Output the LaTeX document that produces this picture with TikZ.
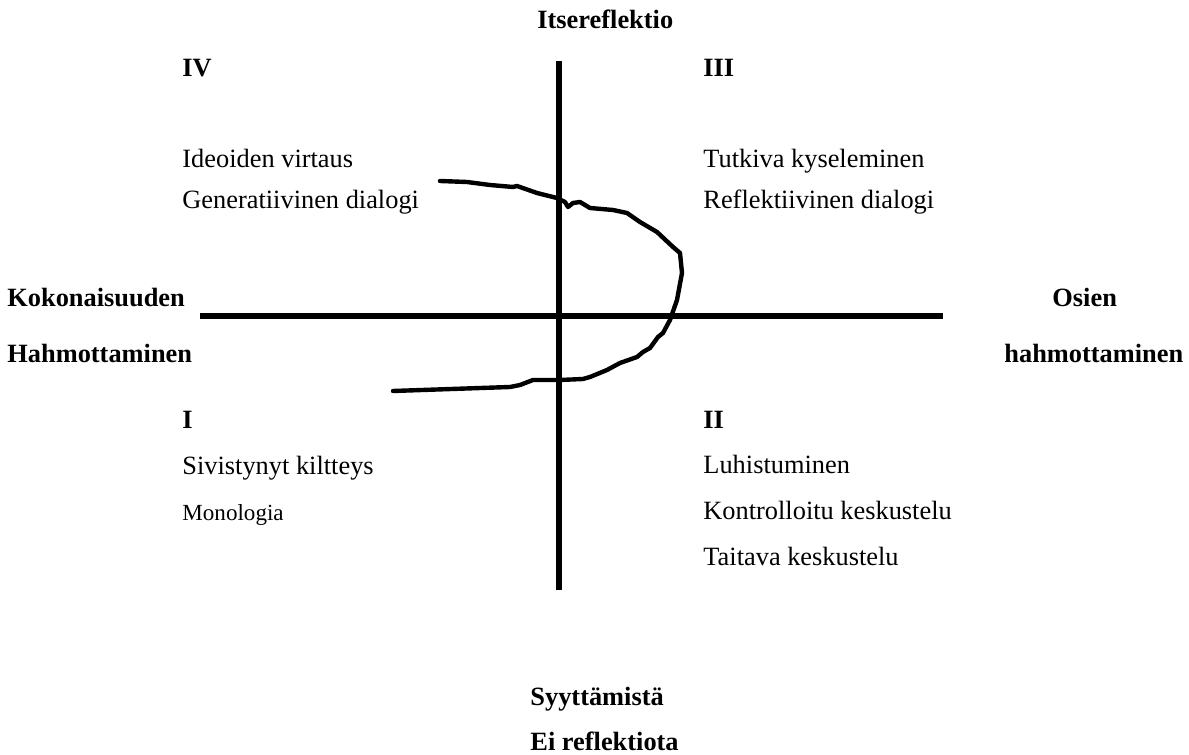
\documentclass[tikz,border=0pt]{standalone}
\usepackage{fontspec}
\setmainfont{Liberation Serif}
\usepackage{tikz}
\usetikzlibrary{positioning, calc}

\begin{document}
\begin{tikzpicture}[
    x=0.455pt, y=-0.455pt,
    every node/.style={font=\fontsize{12}{14}\selectfont, inner sep=0pt},
    axislbl/.style={font=\fontsize{12}{14}\selectfont\bfseries, anchor=base west},
    quadnum/.style={font=\fontsize{12}{14}\selectfont\bfseries, anchor=base west},
    quadtxt/.style={anchor=base west},
    axis/.style={line width=2.7pt},
    pathline/.style={line width=2pt, line join=round, line cap=round},
]
\useasboundingbox (0,0) rectangle (1189,755);

% axes
\coordinate (axL) at (200,316);
\coordinate (axR) at (943,316);
\coordinate (axT) at (559,61);
\coordinate (axB) at (559,590);
\draw[axis] (axL) -- (axR);
\draw[axis] (axT) -- (axB);

% axis labels
\node[axislbl] (top)    at (537,29)  {Itsereflektio};
\node[axislbl] (bot1)   at (530,706) {Syyttämistä};
\node[axislbl] (bot2)   at (530,751) {Ei reflektiota};
\node[axislbl] (left1)  at (7,307)   {Kokonaisuuden};
\node[axislbl] (left2)  at (7,363)   {Hahmottaminen};
\node[axislbl] (right1) at (1052,307) {Osien};
\node[axislbl] (right2) at (1004,363) {hahmottaminen};

% quadrant IV
\node[quadnum] (qIV) at (182,77) {IV};
\node[quadtxt] (iv1) at (182,168) {Ideoiden virtaus};
\node[quadtxt] (iv2) at (182,209) {Generatiivinen dialogi};

% quadrant III
\node[quadnum] (qIII) at (703,77) {III};
\node[quadtxt] (iii1) at (703,168) {Tutkiva kyseleminen};
\node[quadtxt] (iii2) at (703,209) {Reflektiivinen dialogi};

% quadrant I
\node[quadnum] (qI) at (182,429) {I};
\node[quadtxt] (i1) at (182,475) {Sivistynyt kiltteys};
\node[quadtxt, font=\fontsize{10.5}{12}\selectfont] (i2) at (182,521) {Monologia};

% quadrant II
\node[quadnum] (qII) at (703,429) {II};
\node[quadtxt] (ii1) at (703,474) {Luhistuminen};
\node[quadtxt] (ii2) at (703,520) {Kontrolloitu keskustelu};
\node[quadtxt] (ii3) at (703,566) {Taitava keskustelu};

% hand-drawn path
\draw[pathline] (440,181) -- (467,182) -- (490,185) -- (513,187) -- (517,186)
    -- (537,193) -- (557,198) -- (565,202) -- (568,207) -- (573,203)
    -- (580,202) -- (590,208) -- (613,210) -- (627,213) -- (640,222)
    -- (657,232) -- (673,247) -- (680,253) -- (682,273) -- (677,300)
    -- (670,320) -- (663,333) -- (658,337) -- (650,348) -- (643,352)
    -- (637,357) -- (620,363) -- (607,370) -- (590,377) -- (583,379)
    -- (560,380) -- (533,380) -- (520,385) -- (510,387) -- (393,391);
\end{tikzpicture}
\end{document}
